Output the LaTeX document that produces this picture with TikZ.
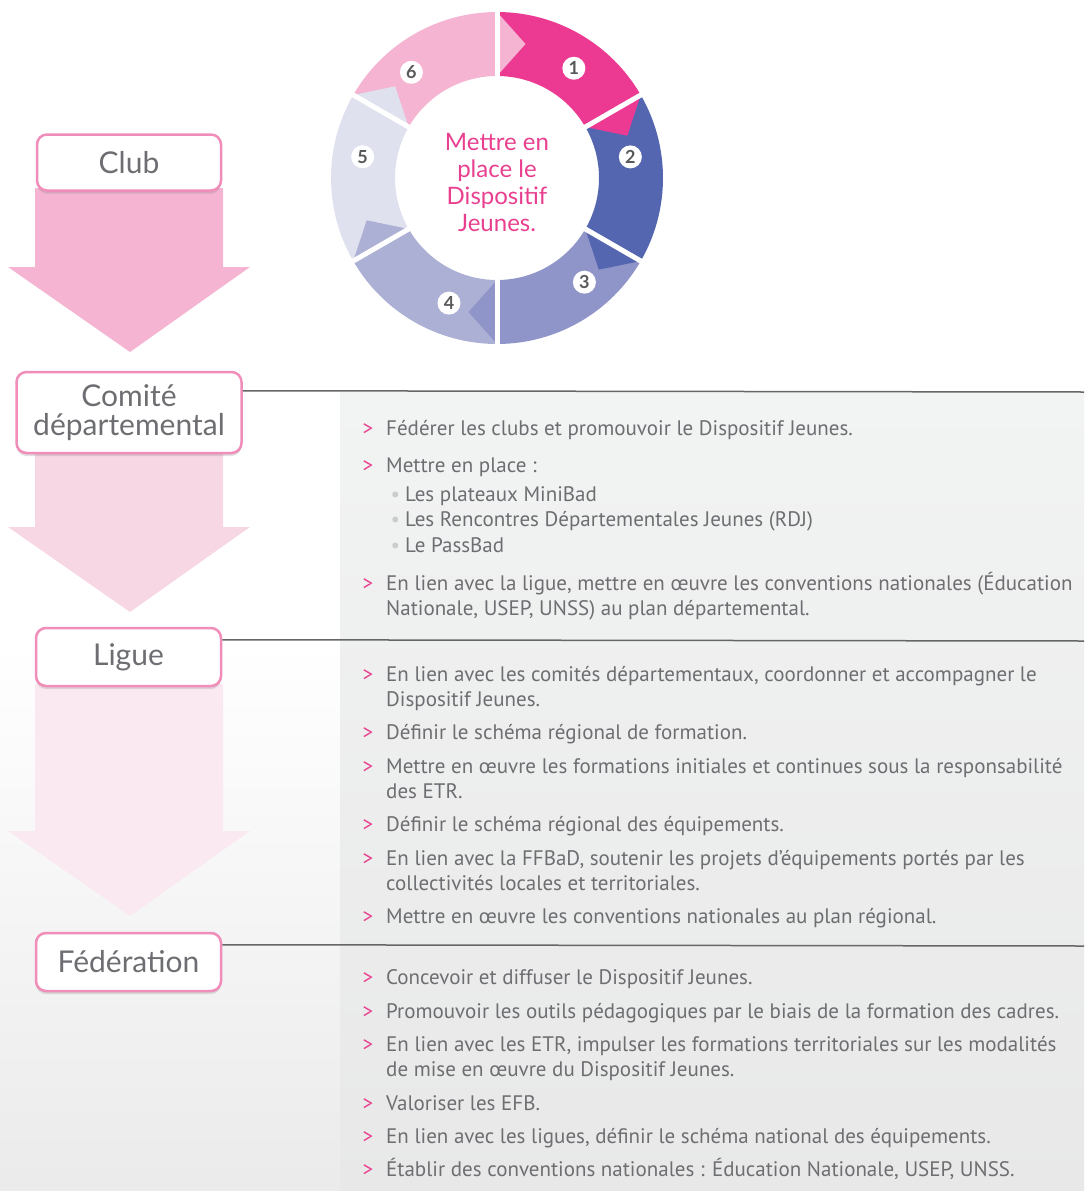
\documentclass[tikz,border=0pt]{standalone}
\usepackage{fontspec}
\setmainfont{PT Sans}
\newfontfamily\museo{Lato}
\usetikzlibrary{shadows}

\definecolor{segA}{HTML}{EC3A93}
\definecolor{segB}{HTML}{5566B0}
\definecolor{segC}{HTML}{8F95C8}
\definecolor{segD}{HTML}{ADB0D5}
\definecolor{segE}{HTML}{E0E1EF}
\definecolor{segF}{HTML}{F5B4D1}
\definecolor{rose}{HTML}{E8408F}
\definecolor{bordrose}{HTML}{F08DB9}
\definecolor{gristexte}{HTML}{6D6E71}
\definecolor{grisnum}{HTML}{58595B}
\definecolor{panneau}{HTML}{F2F3F3}
\definecolor{flecheA}{HTML}{F5B4D1}
\definecolor{flecheB}{HTML}{F8D7E5}
\definecolor{flecheC}{HTML}{FBE9F1}

\newcommand{\puce}{\llap{\textcolor{rose}{>}\hspace{13pt}}}
\newcommand{\rond}{\llap{\textcolor{black!20}{\textbullet}\hspace{5pt}}}

\tikzset{
    niveau/.style={rounded corners=10pt, draw=bordrose, line width=2.5pt, fill=white,
        text=gristexte, font=\museo\fontsize{30}{29}\selectfont, align=center,
        inner sep=0pt, drop shadow={shadow xshift=0pt, shadow yshift=-3pt, opacity=0.25}},
    item/.style={anchor=base west, align=left, inner sep=0pt, text=gristexte,
        font=\fontsize{21}{25}\selectfont},
    sep/.style={draw=black!60, line width=1.5pt},
    numero/.style={circle, fill=white, minimum size=23pt, inner sep=0pt,
        text=grisnum, font=\museo\bfseries\fontsize{18}{18}\selectfont}
}

\begin{document}
\begin{tikzpicture}[x=1pt, y=1pt]
    \useasboundingbox (0,0) rectangle (1084,-1191);

    % fonds
    \shade[top color=white, bottom color=black!8] (0,-640) rectangle (340,-1191);
    \shade[top color=panneau, bottom color=black!9] (340,-392) rectangle (1084,-1191);

    % fleches
    \foreach \haut/\milieu/\pointe/\col in {188/267/352/flecheA, 451/527/612/flecheB, 684/831/916/flecheC}
        \fill[\col] (35,-\haut) -- (223,-\haut) -- (223,-\milieu) -- (250,-\milieu)
            -- (130,-\pointe) -- (8,-\milieu) -- (35,-\milieu) -- cycle;

    % niveaux
    \node[niveau, minimum width=184pt, minimum height=56pt] (club) at (129,-162.5) {Club};
    \node[niveau, minimum width=225pt, minimum height=81pt] (comite) at (129,-412.5) {Comité\\départemental};
    \node[niveau, minimum width=185pt, minimum height=58pt] (ligue) at (128.5,-657) {Ligue};
    \node[niveau, minimum width=185pt, minimum height=58pt] (fede) at (128.5,-962) {Fédération};

    \draw[sep] ([yshift=-20pt]comite.north east) -- (1084,-392);
    \draw[sep] ([yshift=-13pt]ligue.north east) -- (1084,-641);
    \draw[sep] ([yshift=-13pt]fede.north east) -- (1084,-946);

    % cycle
    \begin{scope}[shift={(497,-178)}]
        \foreach \k/\c/\p in {1/segA/segF, 2/segB/segA, 3/segC/segB, 4/segD/segC, 5/segE/segD, 6/segF/segE} {
            \pgfmathsetmacro{\a}{90-60*(\k-1)}
            \pgfmathsetmacro{\b}{\a-60}
            \pgfmathsetmacro{\t}{\a-12}
            \fill[\c] (\a:102) -- (\a:166) arc[start angle=\a, end angle=\b, radius=166]
                -- (\b:102) arc[start angle=\b, end angle=\a, radius=102] -- cycle;
            \fill[\p] (\a:102) -- (\a:166) -- (\t:137) -- cycle;
        }
        \foreach \a in {90, 30, -30, -90, -150, 150}
            \draw[white, line width=5pt] (\a:96) -- (\a:172);
        \node[numero] (n1) at (55:134) {1};
        \node[numero] (n2) at (9:135) {2};
        \node[numero] (n3) at (-50:136) {3};
        \node[numero] (n4) at (-111:134) {4};
        \node[numero] (n5) at (171:136) {5};
        \node[numero] (n6) at (129:136) {6};
        \node[align=center, text=rose, font=\museo\fontsize{24}{27}\selectfont] (centre) at (0,-4)
            {Mettre en\\place le\\Dispositif\\Jeunes.};
    \end{scope}

    % comite departemental
    \node[item] (c1) at (386,-435) {\puce Fédérer les clubs et promouvoir le Dispositif Jeunes.};
    \node[item] (c2) at (386,-472) {\puce Mettre en place :};
    \node[item] (c3) at (405,-501) {\rond Les plateaux MiniBad};
    \node[item] (c4) at (405,-526) {\rond Les Rencontres Départementales Jeunes (RDJ)};
    \node[item] (c5) at (405,-552) {\rond Le PassBad};
    \node[item] (c6) at (386,-615) {\puce En lien avec la ligue, mettre en œuvre les conventions nationales (Éducation\\Nationale, USEP, UNSS) au plan départemental.};

    % ligue
    \node[item] (l1) at (386,-706) {\puce En lien avec les comités départementaux, coordonner et accompagner le\\Dispositif Jeunes.};
    \node[item] (l2) at (386,-739) {\puce Définir le schéma régional de formation.};
    \node[item] (l3) at (386,-798) {\puce Mettre en œuvre les formations initiales et continues sous la responsabilité\\des ETR.};
    \node[item] (l4) at (386,-831) {\puce Définir le schéma régional des équipements.};
    \node[item] (l5) at (386,-890) {\puce En lien avec la FFBaD, soutenir les projets d’équipements portés par les\\collectivités locales et territoriales.};
    \node[item] (l6) at (386,-923) {\puce Mettre en œuvre les conventions nationales au plan régional.};

    % federation
    \node[item] (f1) at (386,-984) {\puce Concevoir et diffuser le Dispositif Jeunes.};
    \node[item] (f2) at (386,-1018) {\puce Promouvoir les outils pédagogiques par le biais de la formation des cadres.};
    \node[item] (f3) at (386,-1076) {\puce En lien avec les ETR, impulser les formations territoriales sur les modalités\\de mise en œuvre du Dispositif Jeunes.};
    \node[item] (f4) at (386,-1110) {\puce Valoriser les EFB.};
    \node[item] (f5) at (386,-1143) {\puce En lien avec les ligues, définir le schéma national des équipements.};
    \node[item] (f6) at (386,-1176) {\puce Établir des conventions nationales : Éducation Nationale, USEP, UNSS.};
\end{tikzpicture}
\end{document}
